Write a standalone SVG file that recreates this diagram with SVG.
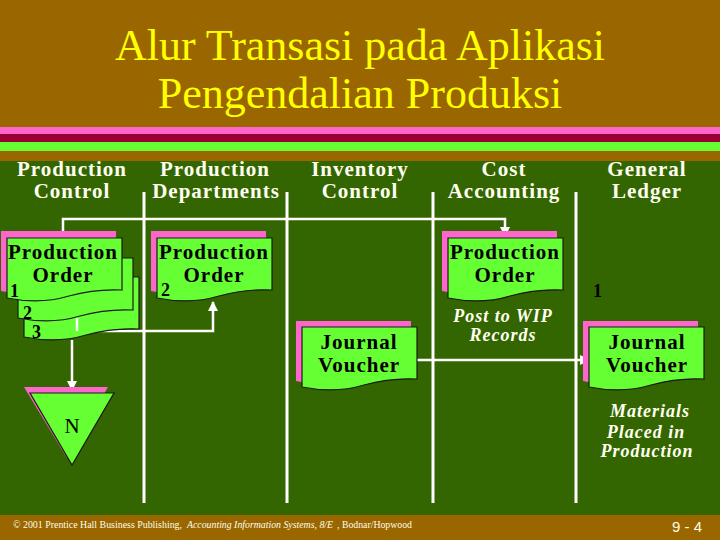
<svg xmlns="http://www.w3.org/2000/svg" width="720" height="540" viewBox="0 0 720 540">
<style>
.hdr{font-family:"Liberation Serif","Times New Roman",serif;font-weight:bold;font-size:21px;fill:#FFFFF0;text-anchor:middle;letter-spacing:1px}
.doct{font-family:"Liberation Serif","Times New Roman",serif;font-weight:bold;font-size:21px;fill:#000;text-anchor:middle;letter-spacing:1px}
.num{font-family:"Liberation Serif","Times New Roman",serif;font-weight:bold;font-size:18px;fill:#000}
.note{font-family:"Liberation Serif","Times New Roman",serif;font-weight:bold;font-style:italic;font-size:18px;fill:#FFFFF0;text-anchor:middle;letter-spacing:1px}
.doc{fill:#66FF33;stroke:#1a1a1a;stroke-width:1.2}
.sh{fill:#FF66CC}
.div{stroke:#FFFFFF;stroke-width:3;fill:none}
.con{stroke:#FFFFFF;stroke-width:2.5;fill:none}
.ft{font-family:"Liberation Serif","Times New Roman",serif;font-size:10.5px;fill:#FFFFE8}
</style>
<defs>
<path id="docShape" d="M0,0 H115 V52 C95,51 80,53 62,58 C42,64 20,64 0,60 Z"/>
<marker id="arr" viewBox="0 0 10 10" refX="9" refY="5" markerWidth="4" markerHeight="4" orient="auto" markerUnits="strokeWidth">
<path d="M0,0 L10,5 L0,10 Z" fill="#FFFFFF"/>
</marker>
</defs>
<!-- background -->
<rect x="0" y="0" width="720" height="540" fill="#336600"/>
<rect x="0" y="0" width="720" height="161" fill="#996600"/>
<rect x="0" y="127" width="720" height="7" fill="#FF66CC"/>
<rect x="0" y="134" width="720" height="8" fill="#990033"/>
<rect x="0" y="142" width="720" height="9" fill="#66FF33"/>
<rect x="0" y="515" width="720" height="25" fill="#996600"/>
<!-- title -->
<g id="title" font-family="'Liberation Serif','Times New Roman',serif" font-size="44" fill="#FFFF00" text-anchor="middle">
<text x="360" y="60">Alur Transasi pada Aplikasi</text>
<text x="360" y="108">Pengendalian Produksi</text>
</g>
<!-- column headers -->
<g id="headers">
<text class="hdr" x="72" y="176">Production</text>
<text class="hdr" x="72" y="198">Control</text>
<text class="hdr" x="215" y="176">Production</text>
<text class="hdr" x="216" y="198">Departments</text>
<text class="hdr" x="360" y="176">Inventory</text>
<text class="hdr" x="360" y="198">Control</text>
<text class="hdr" x="504" y="176">Cost</text>
<text class="hdr" x="504" y="198">Accounting</text>
<text class="hdr" x="647" y="176">General</text>
<text class="hdr" x="647" y="198">Ledger</text>
</g>
<!-- column dividers -->
<g id="dividers">
<line class="div" x1="144" y1="192" x2="144" y2="503"/>
<line class="div" x1="287" y1="192" x2="287" y2="503"/>
<line class="div" x1="433" y1="192" x2="433" y2="503"/>
<line class="div" x1="576" y1="192" x2="576" y2="503"/>
</g>
<!-- connectors -->
<g id="connectors">
<path class="con" d="M63,238 V219 H505 V236" marker-end="url(#arr)"/>
<path class="con" d="M77,318 V331 H213 V302" marker-end="url(#arr)"/>
<path class="con" d="M72,340 V390" marker-end="url(#arr)"/>
<path class="con" d="M417,360 H589" marker-end="url(#arr)"/>
</g>
<!-- Production Control: Production Order copies 1-3 -->
<g id="pc-order">
<use href="#docShape" class="doc" transform="translate(24,277)"/>
<use href="#docShape" class="doc" transform="translate(18,258)"/>
<use href="#docShape" class="sh" transform="translate(1,231)"/>
<use href="#docShape" class="doc" transform="translate(7,238)"/>
<text class="doct" x="63" y="259">Production</text>
<text class="doct" x="63" y="282">Order</text>
<text class="num" x="10" y="297">1</text>
<text class="num" x="23" y="319">2</text>
<text class="num" x="32" y="338">3</text>
<path class="con" d="M77,318 V331"/>
</g>
<!-- Production Departments: Production Order 2 -->
<g id="pd-order">
<use href="#docShape" class="sh" transform="translate(151,231)"/>
<use href="#docShape" class="doc" transform="translate(157,238)"/>
<text class="doct" x="214" y="259">Production</text>
<text class="doct" x="214" y="282">Order</text>
<text class="num" x="161" y="296">2</text>
</g>
<!-- Cost Accounting: Production Order -->
<g id="ca-order">
<use href="#docShape" class="sh" transform="translate(442,231)"/>
<use href="#docShape" class="doc" transform="translate(448,238)"/>
<text class="doct" x="505" y="259">Production</text>
<text class="doct" x="505" y="282">Order</text>
</g>
<g id="ca-note">
<text class="note" x="503" y="322">Post to WIP</text>
<text class="note" x="503" y="341">Records</text>
</g>
<!-- Inventory Control: Journal Voucher -->
<g id="ic-jv">
<use href="#docShape" class="sh" transform="translate(296,321)"/>
<use href="#docShape" class="doc" transform="translate(302,327)"/>
<text class="doct" x="359" y="349">Journal</text>
<text class="doct" x="359" y="372">Voucher</text>
</g>
<!-- General Ledger: Journal Voucher 1 -->
<g id="gl-jv">
<text class="num" x="593" y="297">1</text>
<use href="#docShape" class="sh" transform="translate(583,321)"/>
<use href="#docShape" class="doc" transform="translate(589,327)"/>
<text class="doct" x="647" y="349">Journal</text>
<text class="doct" x="647" y="372">Voucher</text>
</g>
<g id="gl-note">
<text class="note" x="650" y="417">Materials</text>
<text class="note" x="646" y="438">Placed in</text>
<text class="note" x="647" y="457">Production</text>
</g>
<!-- File N -->
<g id="file-n">
<path d="M24,387 H108 L67,458 Z" fill="#FF66CC"/>
<path d="M30,393 H114 L72,465 Z" fill="#66FF33" stroke="#1a1a1a" stroke-width="1.2"/>
<text x="72" y="433" font-family="'Liberation Serif','Times New Roman',serif" font-size="21" fill="#000" text-anchor="middle">N</text>
</g>
<!-- footer -->
<g id="footer">
<text class="ft" x="13" y="528" textLength="169" lengthAdjust="spacingAndGlyphs">© 2001 Prentice Hall Business Publishing,</text>
<text class="ft" x="187" y="528" font-style="italic" textLength="146" lengthAdjust="spacingAndGlyphs">Accounting Information Systems, 8/E</text>
<text class="ft" x="337" y="528" textLength="75" lengthAdjust="spacingAndGlyphs">, Bodnar/Hopwood</text>
<text x="702" y="532" font-family="'Liberation Sans',Arial,sans-serif" font-size="15" fill="#FFFFE8" text-anchor="end">9 - 4</text>
</g>
</svg>
